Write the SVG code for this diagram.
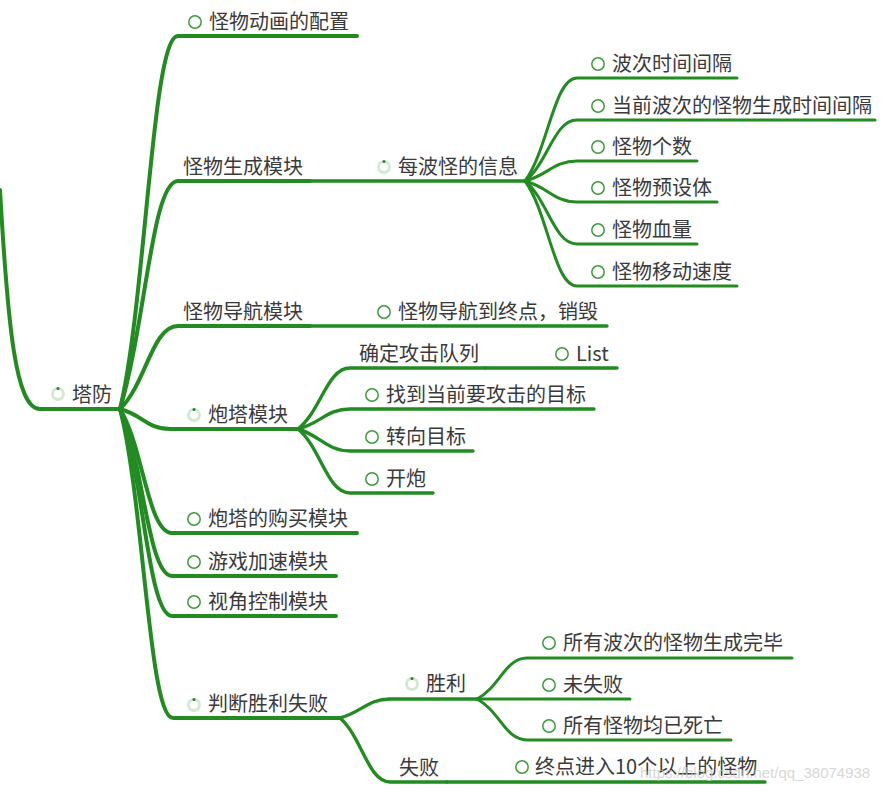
<svg xmlns="http://www.w3.org/2000/svg" width="893" height="792" viewBox="0 0 893 792">
<style>
.l1{fill:none;stroke:#228b22;stroke-width:4;stroke-linecap:round}
.l2{fill:none;stroke:#228b22;stroke-width:3.4;stroke-linecap:round}
.l3{fill:none;stroke:#228b22;stroke-width:3;stroke-linecap:round}
.t{font-family:"Noto Sans CJK SC","Noto Sans",sans-serif;font-size:20px;fill:#3a3a3a}
.c{fill:#fff;stroke:#3c9c3c;stroke-width:1.5}
.pr{fill:none;stroke:#d3e8d3;stroke-width:2.8}
.pd{fill:#2e7d32}
.wm{font-family:"Liberation Sans",Arial,sans-serif;font-size:15px;fill:#c8c8c8;opacity:0.7}
</style>
<rect width="893" height="792" fill="#fff"/>
<g id="connectors">
  <path class="l1" d="M0,190 C8,330 16,409 40,409 L120,409"/>
  <path class="l1" d="M120,409 C146,300 152,36 178,36 L357,36"/>
  <path class="l1" d="M120,409 C146,322 152,181 178,181 L310,181"/>
  <path class="l1" d="M120,409 C146,384 152,326 178,326 L310,326"/>
  <path class="l1" d="M120,409 C143,415 147,429 170,429 L298,429"/>
  <path class="l1" d="M120,409 C143,446 148,533 172,533 L357,533"/>
  <path class="l1" d="M120,409 C143,459 148,576 172,576 L336,576"/>
  <path class="l1" d="M120,409 C143,471 148,616 172,616 L336,616"/>
  <path class="l1" d="M120,409 C144,502 149,718 173,718 L340,718"/>
  <path class="l2" d="M310,181 L525,181"/>
  <path class="l3" d="M525,181 C548,150 554,78 577,78 L737,78"/>
  <path class="l3" d="M525,181 C548,163 554,120 577,120 L875,120"/>
  <path class="l3" d="M525,181 C548,175 554,161 577,161 L697,161"/>
  <path class="l3" d="M525,181 C548,187 554,202 577,202 L717,202"/>
  <path class="l3" d="M525,181 C548,200 554,244 577,244 L697,244"/>
  <path class="l3" d="M525,181 C548,212 554,286 577,286 L737,286"/>
  <path class="l2" d="M310,326 L607,326"/>
  <path class="l2" d="M298,429 C321,411 327,368 350,368 L485,368"/>
  <path class="l2" d="M485,368 L617,368"/>
  <path class="l2" d="M298,429 C321,423 327,409 350,409 L594,409"/>
  <path class="l2" d="M298,429 C321,436 327,451 350,451 L473,451"/>
  <path class="l2" d="M298,429 C321,448 327,493 350,493 L433,493"/>
  <path class="l2" d="M340,718 C362,712 368,699 390,699 L477,699"/>
  <path class="l2" d="M340,718 C362,737 368,782 390,782 L447,782"/>
  <path class="l3" d="M477,699 C500,687 505,658 527,658 L792,658"/>
  <path class="l3" d="M477,699 L630,699"/>
  <path class="l3" d="M477,699 C500,711 505,740 527,740 L731,740"/>
  <path class="l2" d="M447,782 L765,782"/>
</g>
<g id="root"><circle class="pr" cx="58" cy="394" r="5.5"/><circle class="pd" cx="58" cy="388.5" r="1.5"/><text class="t" x="72" y="402">塔防</text></g>
<g id="n-anim"><circle class="c" cx="195" cy="22" r="6.2"/><text class="t" x="209" y="29">怪物动画的配置</text></g>
<g id="n-spawn"><text class="t" x="183" y="174">怪物生成模块</text></g>
<g id="n-wave"><circle class="pr" cx="384" cy="167" r="5.5"/><circle class="pd" cx="384" cy="161.5" r="1.5"/><text class="t" x="398" y="174">每波怪的信息</text></g>
<g id="n-w1"><circle class="c" cx="598" cy="64" r="6.2"/><text class="t" x="612" y="71">波次时间间隔</text></g>
<g id="n-w2"><circle class="c" cx="598" cy="106" r="6.2"/><text class="t" x="612" y="113">当前波次的怪物生成时间间隔</text></g>
<g id="n-w3"><circle class="c" cx="598" cy="147" r="6.2"/><text class="t" x="612" y="154">怪物个数</text></g>
<g id="n-w4"><circle class="c" cx="598" cy="188" r="6.2"/><text class="t" x="612" y="195">怪物预设体</text></g>
<g id="n-w5"><circle class="c" cx="598" cy="230" r="6.2"/><text class="t" x="612" y="237">怪物血量</text></g>
<g id="n-w6"><circle class="c" cx="598" cy="272" r="6.2"/><text class="t" x="612" y="279">怪物移动速度</text></g>
<g id="n-nav"><text class="t" x="183" y="319">怪物导航模块</text></g>
<g id="n-nav1"><circle class="c" cx="384" cy="312" r="6.2"/><text class="t" x="398" y="319">怪物导航到终点，销毁</text></g>
<g id="n-tower"><circle class="pr" cx="194" cy="415" r="5.5"/><circle class="pd" cx="194" cy="409.5" r="1.5"/><text class="t" x="208" y="422">炮塔模块</text></g>
<g id="n-t1"><text class="t" x="359" y="361">确定攻击队列</text></g>
<g id="n-t1a"><circle class="c" cx="562" cy="354" r="6.2"/><text class="t" x="576" y="361">List</text></g>
<g id="n-t2"><circle class="c" cx="372" cy="395" r="6.2"/><text class="t" x="386" y="402">找到当前要攻击的目标</text></g>
<g id="n-t3"><circle class="c" cx="372" cy="437" r="6.2"/><text class="t" x="386" y="444">转向目标</text></g>
<g id="n-t4"><circle class="c" cx="372" cy="479" r="6.2"/><text class="t" x="386" y="486">开炮</text></g>
<g id="n-buy"><circle class="c" cx="194" cy="519" r="6.2"/><text class="t" x="208" y="526">炮塔的购买模块</text></g>
<g id="n-speed"><circle class="c" cx="194" cy="562" r="6.2"/><text class="t" x="208" y="569">游戏加速模块</text></g>
<g id="n-view"><circle class="c" cx="194" cy="602" r="6.2"/><text class="t" x="208" y="609">视角控制模块</text></g>
<g id="n-judge"><circle class="pr" cx="194" cy="705" r="5.5"/><circle class="pd" cx="194" cy="699.5" r="1.5"/><text class="t" x="208" y="711">判断胜利失败</text></g>
<g id="n-win"><circle class="pr" cx="412" cy="684" r="5.5"/><circle class="pd" cx="412" cy="678.5" r="1.5"/><text class="t" x="426" y="691">胜利</text></g>
<g id="n-win1"><circle class="c" cx="549" cy="643" r="6.2"/><text class="t" x="563" y="650">所有波次的怪物生成完毕</text></g>
<g id="n-win2"><circle class="c" cx="549" cy="685" r="6.2"/><text class="t" x="563" y="692">未失败</text></g>
<g id="n-win3"><circle class="c" cx="549" cy="726" r="6.2"/><text class="t" x="563" y="733">所有怪物均已死亡</text></g>
<g id="n-lose"><text class="t" x="399" y="775">失败</text></g>
<g id="n-lose1"><circle class="c" cx="522" cy="767" r="6.2"/><text class="t" x="535" y="774">终点进入10个以上的怪物</text></g>
<text class="wm" x="640" y="778">https://blog.csdn.net/qq_38074938</text>
</svg>
